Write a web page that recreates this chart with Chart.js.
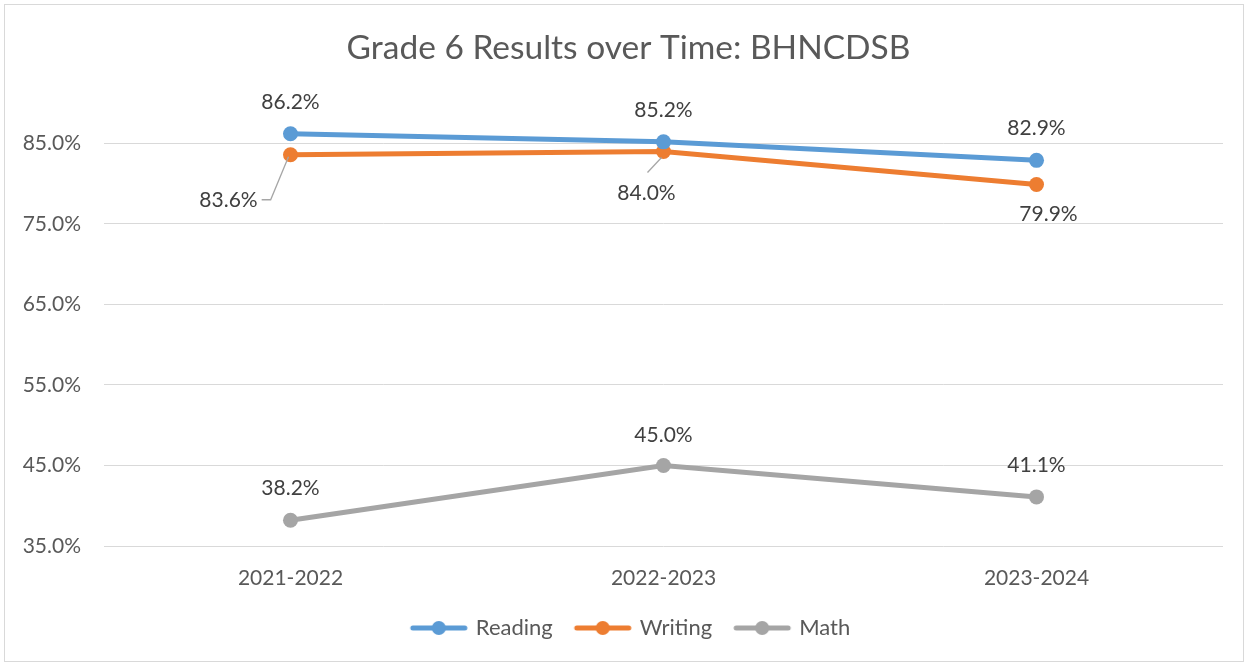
<!DOCTYPE html>
<html>
<head>
<meta charset="utf-8">
<script src="https://cdn.jsdelivr.net/npm/chart.js@4"></script>
<style>
  body { margin: 0; background: #fff; }
  #wrap { position: absolute; left: 0; top: 0; width: 1248px; height: 666px; }
</style>
</head>
<body>
<div id="wrap"><canvas id="chart" width="1248" height="666"></canvas></div>
<script>
// data
const years = ['2021-2022', '2022-2023', '2023-2024']
const reading = [86.2, 85.2, 82.9]
const writing = [83.6, 84.0, 79.9]
const math = [38.2, 45.0, 41.1]
const yTicks = [35, 45, 55, 65, 75, 85]

const blue = '#5B9BD5'
const orange = '#ED7D31'
const grey = '#A5A5A5'
const textGrey = '#595959'
const FONT = 'Lato'

// where each data label sits relative to its point (px)
const labelPos = [
  [[0, -32], [0, -32], [0, -32]],
  [[-62, 46], [-17, 42], [12, 30]],
  [[0, -32], [0, -30], [0, -32]]
]

// little line + dot images for the legend
function legendIcon(color){
  const c = document.createElement('canvas')
  c.width = 60; c.height = 16
  const ctx = c.getContext('2d')
  ctx.strokeStyle = color
  ctx.lineWidth = 5
  ctx.lineCap = 'round'
  ctx.beginPath(); ctx.moveTo(4, 8); ctx.lineTo(56, 8); ctx.stroke()
  ctx.fillStyle = color
  ctx.beginPath(); ctx.arc(30, 8, 7, 0, Math.PI * 2); ctx.fill()
  return c
}

const frame = {
  id: 'frame',
  beforeDraw(chart){
    const ctx = chart.ctx
    ctx.save()
    ctx.fillStyle = '#fff'
    ctx.fillRect(0, 0, chart.width, chart.height)
    ctx.strokeStyle = '#d9d9d9'
    ctx.lineWidth = 1
    ctx.strokeRect(4.5, 4.5, chart.width - 9, chart.height - 9)
    ctx.restore()
  }
}

// excel centres title and legend on the whole box, a bit right of chart.js
const centreShift = {
  id: 'centreShift',
  afterLayout(chart){
    if (chart.legend){
      chart.legend.left += 20
      chart.legend.right += 20
    }
    if (chart.titleBlock){
      chart.titleBlock.left += 17
      chart.titleBlock.right += 17
    }
  }
}

const valueLabels = {
  id: 'valueLabels',
  afterDatasetsDraw(chart){
    const ctx = chart.ctx
    ctx.save()
    ctx.font = '21px ' + FONT
    ctx.fillStyle = '#404040'
    ctx.textAlign = 'center'
    ctx.textBaseline = 'middle'
    chart.data.datasets.forEach((ds, di) => {
      const meta = chart.getDatasetMeta(di)
      meta.data.forEach((pt, i) => {
        const off = labelPos[di][i]
        const lx = pt.x + off[0], ly = pt.y + off[1]
        const txt = ds.data[i].toFixed(1) + '%'
        ctx.fillText(txt, lx, ly)

        // leader lines for the two writing labels that sit off to the side
        if (di === 1 && i === 0){
          const w = ctx.measureText(txt).width
          ctx.strokeStyle = '#a6a6a6'
          ctx.lineWidth = 1.3
          ctx.beginPath()
          ctx.moveTo(lx + w / 2 + 4, ly - 1)
          ctx.lineTo(lx + w / 2 + 13, ly - 1)
          ctx.lineTo(pt.x - 2, pt.y + 2)
          ctx.stroke()
        }
        if (di === 1 && i === 1){
          ctx.strokeStyle = '#a6a6a6'
          ctx.lineWidth = 1.3
          ctx.beginPath()
          ctx.moveTo(lx + 1, ly - 21)
          ctx.lineTo(pt.x - 2, pt.y + 6)
          ctx.stroke()
        }
      })
    })
    ctx.restore()
  }
}

function series(label, data, color){
  return {
    label: label,
    data: data,
    borderColor: color,
    backgroundColor: color,
    borderWidth: 5,
    pointRadius: 7.5,
    pointHoverRadius: 7.5,
    pointBorderWidth: 0,
    tension: 0,
    icon: legendIcon(color)
  }
}

new Chart(document.getElementById('chart'), {
  type: 'line',
  data: {
    labels: years,
    datasets: [
      series('Reading', reading, blue),
      series('Writing', writing, orange),
      series('Math', math, grey)
    ]
  },
  options: {
    responsive: false,
    animation: false,
    layout: { padding: { left: 0, right: 25, top: 0, bottom: 17 } },
    plugins: {
      title: {
        display: true,
        text: 'Grade 6 Results over Time: BHNCDSB',
        color: textGrey,
        font: { family: FONT, size: 33.5, weight: 'normal' },
        padding: { top: 28, bottom: 35 }
      },
      legend: {
        position: 'bottom',
        labels: {
          usePointStyle: true,
          pointStyleWidth: 52,
          padding: 24,
          color: textGrey,
          font: { family: FONT, size: 22 },
          generateLabels(chart){
            return chart.data.datasets.map((ds, i) => ({
              text: ds.label,
              pointStyle: ds.icon,
              fillStyle: ds.borderColor,
              strokeStyle: ds.borderColor,
              fontColor: textGrey,
              lineWidth: 0,
              hidden: false,
              datasetIndex: i
            }))
          }
        }
      },
      tooltip: { enabled: false }
    },
    scales: {
      x: {
        offset: true,
        grid: { display: false },
        border: { display: false },
        ticks: { color: textGrey, padding: 12, font: { family: FONT, size: 21 } },
        afterFit(scale){ scale.height = 47 }
      },
      y: {
        min: 35,
        max: 90,
        afterBuildTicks(scale){ scale.ticks = yTicks.map(v => ({ value: v })) },
        grid: { color: '#d9d9d9', lineWidth: 1, drawTicks: false },
        border: { display: false },
        ticks: {
          color: textGrey,
          padding: 23,
          font: { family: FONT, size: 21 },
          callback: v => v.toFixed(1) + '%'
        },
        afterFit(scale){ scale.width = 104 }
      }
    }
  },
  plugins: [frame, centreShift, valueLabels]
})
</script>
</body>
</html>
